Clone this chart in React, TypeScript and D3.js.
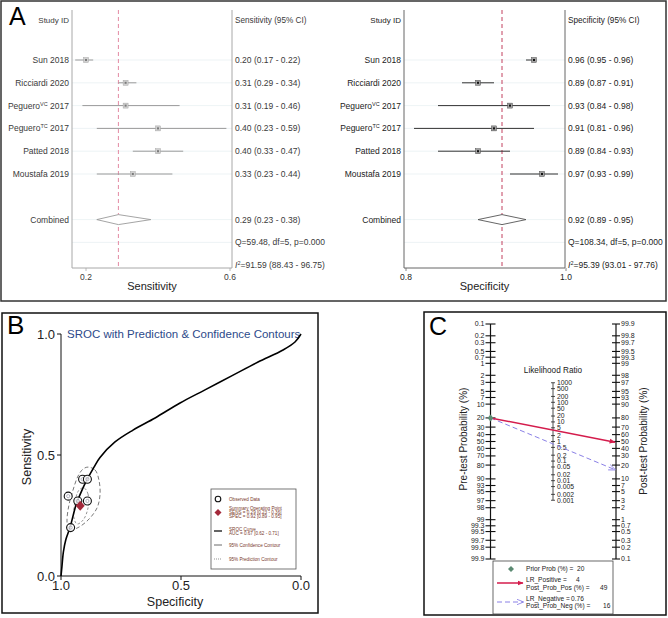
import React from "react";
import * as d3 from "d3";

const FONT = "'Liberation Sans', Arial, Helvetica, sans-serif";

// ---------- Panel A data ----------
const studyBase = ["Sun", "Ricciardi", "Peguero", "Peguero", "Patted", "Moustafa"];
const studySup = ["", "", "VC", "TC", "", ""];
const studyYear = ["2018", "2020", "2017", "2017", "2018", "2019"];
const sensEst = [0.2, 0.31, 0.31, 0.4, 0.4, 0.33];
const sensLo = [0.17, 0.29, 0.19, 0.23, 0.33, 0.23];
const sensHi = [0.22, 0.34, 0.46, 0.59, 0.47, 0.44];
const specEst = [0.96, 0.89, 0.93, 0.91, 0.89, 0.97];
const specLo = [0.95, 0.87, 0.84, 0.81, 0.84, 0.93];
const specHi = [0.96, 0.91, 0.98, 0.96, 0.93, 0.99];
const sensPooled = [0.29, 0.23, 0.38];
const specPooled = [0.92, 0.89, 0.95];
const sensTicks = [0.2, 0.6];
const specTicks = [0.8, 1.0];
const sensQ = "Q=59.48, df=5, p=0.000";
const sensI2 = "=91.59 (88.43 - 96.75)";
const specQ = "Q=108.34, df=5, p=0.000";
const specI2 = "=95.39 (93.01 - 97.76)";

// ---------- Panel B data ----------
const srocSpec = [1.0, 0.996, 0.99, 0.98, 0.9625, 0.9375, 0.9125, 0.892, 0.8625, 0.8375, 0.775, 0.7, 0.608, 0.504, 0.4, 0.283, 0.179, 0.075, 0.025, 0.0];
const srocSens = [0.0, 0.04, 0.1, 0.15, 0.2, 0.293, 0.355, 0.397, 0.45, 0.49, 0.554, 0.603, 0.653, 0.715, 0.769, 0.83, 0.884, 0.934, 0.967, 1.0];
const predSpec = [0.8875, 0.858, 0.842, 0.8375, 0.85, 0.8875, 0.933, 0.967, 0.975, 0.967, 0.95, 0.929, 0.908];
const predSens = [0.45, 0.438, 0.397, 0.335, 0.281, 0.231, 0.198, 0.19, 0.223, 0.293, 0.355, 0.413, 0.442];
const confSpec = [0.904, 0.8875, 0.8875, 0.908, 0.933, 0.946, 0.942, 0.925];
const confSens = [0.364, 0.339, 0.281, 0.231, 0.215, 0.24, 0.306, 0.355];
const rocTicks = [0, 0.5, 1];
const legendB = ["Observed Data", "Summary Operating Point", "SENS = 0.29 [0.23 - 0.36]", "SPEC = 0.92 [0.89 - 0.95]", "SROC Curve", "AUC = 0.67 [0.62 - 0.71]", "95% Confidence Contour", "95% Prediction Contour"];

// ---------- Panel C data ----------
const probTicks = [0.1, 0.2, 0.3, 0.5, 0.7, 1, 2, 3, 5, 7, 10, 20, 30, 40, 50, 60, 70, 80, 90, 93, 95, 97, 98, 99, 99.3, 99.5, 99.7, 99.8, 99.9];
const lrTicks = [1000, 500, 200, 100, 50, 20, 10, 5, 2, 1, 0.5, 0.2, 0.1, 0.05, 0.02, 0.01, 0.005, 0.002, 0.001];
const priorProb = 20;
const lrPos = 4;
const lrNeg = 0.76;
const postPos = 49;
const postNeg = 16;

const logit = (p: number) => Math.log(p / (1 - p));

type Theme = { line: string; fill: string; dot: string; text: string; ref: string; frame: string; diamond: string };

function Forest(props: any) {
  const { x, axL, axR, est, lo, hi, pooled, header, axisLabel, ticks, q, i2, labelX, ciX, th } = props;
  const t: Theme = th;
  const ry = d3.scaleLinear().domain([0, 5]).range([60, 174]);
  const fmt = d3.format(".2f");
  const tickFmt = d3.format(".1f");
  const yTop = 10;
  const yBot = 268;
  const gridRows = [0, 1, 2, 3, 4, 5, 7, 8];
  const ciText = (e: number, l: number, h: number) => `${fmt(e)} (${fmt(l)} - ${fmt(h)})`;
  const py = ry(7);
  const diamond = [
    [x(pooled[1]), py],
    [x(pooled[0]), py - 5],
    [x(pooled[2]), py],
    [x(pooled[0]), py + 5],
  ];
  return (
    <g fontFamily={FONT}>
      {gridRows.map((r) => (
        <line key={r} x1={axL} x2={axR} y1={ry(r)} y2={ry(r)} stroke="#e9f0f2" strokeWidth={0.8} />
      ))}
      <line x1={x(pooled[0])} x2={x(pooled[0])} y1={yTop} y2={yBot} stroke={t.ref} strokeWidth={1} strokeDasharray="4,3" />
      <line x1={axL} x2={axL} y1={yTop} y2={yBot} stroke={t.frame} strokeWidth={1} />
      <line x1={axR} x2={axR} y1={yTop} y2={yBot} stroke={t.frame} strokeWidth={1} />
      <line x1={axL} x2={axR} y1={yBot} y2={yBot} stroke={t.frame} strokeWidth={1} />
      {ticks.map((v: number) => (
        <g key={v}>
          <line x1={x(v)} x2={x(v)} y1={yBot} y2={yBot + 3} stroke={t.frame} strokeWidth={0.8} />
          <text x={x(v)} y={yBot + 12} textAnchor="middle" fontSize={8.5} fill={t.text}>{tickFmt(v)}</text>
        </g>
      ))}
      <text x={(axL + axR) / 2} y={yBot + 22} textAnchor="middle" fontSize={11} fill="#222">{axisLabel}</text>
      <text x={labelX} y={ry(-1.75)} dy="0.35em" textAnchor="end" fontSize={8} fill={t.text}>Study ID</text>
      <text x={ciX} y={ry(-1.75)} dy="0.35em" fontSize={8.2} fill={t.text}>{header}</text>
      {est.map((e: number, i: number) => {
        const y = ry(i);
        return (
          <g key={i}>
            <text x={labelX} y={y} dy="0.35em" textAnchor="end" fontSize={8.5} fill={t.text}>
              {studyBase[i]}
              {studySup[i] ? <tspan dy={-3} fontSize={5.5}>{studySup[i]}</tspan> : null}
              <tspan dy={studySup[i] ? 3 : 0}>{" " + studyYear[i]}</tspan>
            </text>
            <line x1={x(lo[i])} x2={x(hi[i])} y1={y} y2={y} stroke={t.line} strokeWidth={1} />
            <rect x={x(e) - 2.5} y={y - 2.5} width={5} height={5} fill={t.fill} stroke={t.line} strokeWidth={0.4} />
            <rect x={x(e) - 1} y={y - 1} width={2} height={2} fill={t.dot} />
            <text x={ciX} y={y} dy="0.35em" fontSize={8.5} fill={t.text}>{ciText(e, lo[i], hi[i])}</text>
          </g>
        );
      })}
      <text x={labelX} y={py} dy="0.35em" textAnchor="end" fontSize={8.5} fill={t.text}>Combined</text>
      <polygon points={diamond.map((d) => d.join(",")).join(" ")} fill="white" stroke={t.diamond} strokeWidth={0.9} />
      <text x={ciX} y={py} dy="0.35em" fontSize={8.5} fill={t.text}>{ciText(pooled[0], pooled[1], pooled[2])}</text>
      <text x={ciX} y={ry(8)} dy="0.35em" fontSize={8.5} fill={t.text}>{q}</text>
      <text x={ciX} y={ry(9)} dy="0.35em" fontSize={8.5} fill={t.text}>
        <tspan fontStyle="italic">I</tspan>
        <tspan dy={-3} fontSize={5.5}>2</tspan>
        <tspan dy={3}>{i2}</tspan>
      </text>
    </g>
  );
}

function PanelA() {
  const xSens = d3.scaleLinear().domain([0.2, 0.6]).range([86, 230]);
  const xSpec = d3.scaleLinear().domain([0.8, 1.0]).range([406, 566]);
  const left: Theme = { line: "#9a9a9a", fill: "#d0d0d0", dot: "#7a7a7a", text: "#3a3a3a", ref: "#e48aa4", frame: "#a8a8a8", diamond: "#9a9a9a" };
  const right: Theme = { line: "#333", fill: "#a0a0a0", dot: "#111", text: "#222", ref: "#c2405f", frame: "#666", diamond: "#555" };
  return (
    <g>
      <rect x={1} y={1} width={665} height={300} fill="white" stroke="#333" strokeWidth={1.5} />
      <text x={9} y={25} fontFamily={FONT} fontSize={25} fill="#000">A</text>
      <Forest x={xSens} axL={72} axR={232} est={sensEst} lo={sensLo} hi={sensHi} pooled={sensPooled}
        header="Sensitivity (95% CI)" axisLabel="Sensitivity" ticks={sensTicks} q={sensQ} i2={sensI2}
        labelX={69} ciX={235} th={left} />
      <Forest x={xSpec} axL={404} axR={565} est={specEst} lo={specLo} hi={specHi} pooled={specPooled}
        header="Specificity (95% CI)" axisLabel="Specificity" ticks={specTicks} q={specQ} i2={specI2}
        labelX={401} ciX={568} th={right} />
    </g>
  );
}

function PanelB() {
  const bx = d3.scaleLinear().domain([1, 0]).range([61, 301]);
  const by = d3.scaleLinear().domain([0, 1]).range([576, 334]);
  const fmt = d3.format(".1f");
  const lineGen = d3.line<[number, number]>().x((d) => bx(d[0])).y((d) => by(d[1]));
  const sroc = lineGen.curve(d3.curveCatmullRom)(srocSpec.map((s, i) => [s, srocSens[i]] as [number, number]));
  const closed = d3.line<[number, number]>().x((d) => bx(d[0])).y((d) => by(d[1])).curve(d3.curveCatmullRomClosed);
  const pred = closed(predSpec.map((s, i) => [s, predSens[i]] as [number, number]));
  const conf = closed(confSpec.map((s, i) => [s, confSens[i]] as [number, number]));
  const sx = bx(specPooled[0]);
  const sy = by(sensPooled[0]);
  const legX = 211, legY = 489;
  const txtX = 229;
  const symX = 218;
  const lc = "#7a3a2c";
  return (
    <g fontFamily={FONT}>
      <rect x={2} y={313} width={316} height={300} fill="white" stroke="#111" strokeWidth={1.5} />
      <text x={7} y={334} fontSize={26} fill="#000">B</text>
      <text x={67} y={338} fontSize={11.5} fill="#2d4a8a">SROC with Prediction &amp; Confidence Contours</text>
      <line x1={bx(1)} x2={bx(1)} y1={by(0)} y2={by(1)} stroke="#111" strokeWidth={1} />
      <line x1={bx(1)} x2={bx(0)} y1={by(0)} y2={by(0)} stroke="#111" strokeWidth={1} />
      {rocTicks.map((v) => (
        <g key={"y" + v}>
          <line x1={bx(1) - 4} x2={bx(1)} y1={by(v)} y2={by(v)} stroke="#111" />
          <text x={bx(1) - 6} y={by(v)} dy="0.35em" textAnchor="end" fontSize={13} fill="#222">{fmt(v)}</text>
        </g>
      ))}
      {rocTicks.map((v) => (
        <g key={"x" + v}>
          <line x1={bx(v)} x2={bx(v)} y1={by(0)} y2={by(0) + 4} stroke="#111" />
          <text x={bx(v)} y={by(0) + 14} textAnchor="middle" fontSize={13} fill="#222">{fmt(v)}</text>
        </g>
      ))}
      <text x={175} y={606} textAnchor="middle" fontSize={12.5} fill="#222">Specificity</text>
      <text transform={`translate(31,457) rotate(-90)`} textAnchor="middle" fontSize={12.5} fill="#222">Sensitivity</text>
      <path d={pred || ""} fill="none" stroke="#555" strokeWidth={0.8} strokeDasharray="4,2.5" />
      <path d={conf || ""} fill="none" stroke="#666" strokeWidth={0.7} strokeDasharray="2.5,2" />
      <path d={sroc || ""} fill="none" stroke="#000" strokeWidth={1.6} />
      {specEst.map((s, i) => (
        <g key={i}>
          <circle cx={bx(s)} cy={by(sensEst[i])} r={4} fill="white" fillOpacity={0.85} stroke="#111" strokeWidth={1.1} />
          <circle cx={bx(s)} cy={by(sensEst[i])} r={1.6} fill="none" stroke="#8a8a9a" strokeWidth={0.6} />
        </g>
      ))}
      <path d={`M${sx},${sy - 5} L${sx + 4.5},${sy} L${sx},${sy + 5} L${sx - 4.5},${sy} Z`} fill="#a3283a" />
      <rect x={legX} y={legY} width={85} height={80} fill="white" stroke="#555" strokeWidth={0.8} />
      <circle cx={symX} cy={499} r={2.8} fill="none" stroke="#111" strokeWidth={1.1} />
      <text x={txtX} y={499} dy="0.35em" fontSize={4.6} fill={lc}>{legendB[0]}</text>
      <path d={`M${symX},509 L${symX + 3.5},512.5 L${symX},516 L${symX - 3.5},512.5 Z`} fill="#a3283a" />
      <text x={txtX} y={508.5} dy="0.35em" fontSize={4.6} fill={lc}>{legendB[1]}</text>
      <text x={txtX} y={512.3} dy="0.35em" fontSize={4.6} fill={lc}>{legendB[2]}</text>
      <text x={txtX} y={516.3} dy="0.35em" fontSize={4.6} fill={lc}>{legendB[3]}</text>
      <line x1={symX - 4} x2={symX + 4} y1={531} y2={531} stroke="#222" strokeWidth={1.4} />
      <text x={txtX} y={529.3} dy="0.35em" fontSize={4.6} fill={lc}>{legendB[4]}</text>
      <text x={txtX} y={533.5} dy="0.35em" fontSize={4.6} fill={lc}>{legendB[5]}</text>
      <line x1={symX - 4} x2={symX + 4} y1={545} y2={545} stroke="#444" strokeWidth={0.8} />
      <text x={txtX} y={545} dy="0.35em" fontSize={4.6} fill={lc}>{legendB[6]}</text>
      <line x1={symX - 4} x2={symX + 4} y1={559} y2={559} stroke="#666" strokeWidth={0.7} strokeDasharray="1,1" />
      <text x={txtX} y={559} dy="0.35em" fontSize={4.6} fill={lc}>{legendB[7]}</text>
    </g>
  );
}

function PanelC() {
  const lc = d3.scaleLinear().domain([logit(0.001), logit(0.999)]).range([324, 559]);
  const yPre = (p: number) => lc(logit(p / 100));
  const yPost = (p: number) => lc(-logit(p / 100));
  const yLR = (lr: number) => lc(-Math.log(lr) / 2);
  const xL = 490.5, xM = 553, xR = 616;
  const fmtP = (v: number) => String(v);
  const red = "#d41c4c";
  const blue = "#8a80e6";
  const y0 = yPre(priorProb);
  const tf = 7;
  const lf = 6.6;
  return (
    <g fontFamily={FONT}>
      <defs>
        <marker id="arrRed" viewBox="0 0 10 10" refX="9" refY="5" markerWidth="6" markerHeight="6" orient="auto" markerUnits="userSpaceOnUse">
          <path d="M0,1 L10,5 L0,9 Z" fill={red} />
        </marker>
        <marker id="arrBlue" viewBox="0 0 10 10" refX="9" refY="5" markerWidth="7" markerHeight="7" orient="auto" markerUnits="userSpaceOnUse">
          <path d="M0,1 L10,5 L0,9" fill="none" stroke={blue} strokeWidth={1.2} />
        </marker>
      </defs>
      <rect x={424} y={312} width={242} height={303} fill="white" stroke="#111" strokeWidth={1.5} />
      <text x={429} y={335} fontSize={25} fill="#000">C</text>
      {/* left axis */}
      <line x1={xL} x2={xL} y1={yPre(0.1)} y2={yPre(99.9)} stroke="#111" strokeWidth={1.2} />
      {probTicks.map((v) => (
        <g key={"l" + v}>
          <line x1={xL - 5} x2={xL + 5} y1={yPre(v)} y2={yPre(v)} stroke="#111" strokeWidth={1.1} />
          <text x={xL - 6} y={yPre(v)} dy="0.35em" textAnchor="end" fontSize={tf} fill="#222">{fmtP(v)}</text>
        </g>
      ))}
      {/* right axis */}
      <line x1={xR} x2={xR} y1={yPost(99.9)} y2={yPost(0.1)} stroke="#111" strokeWidth={1.2} />
      {probTicks.map((v) => (
        <g key={"r" + v}>
          <line x1={xR - 4} x2={xR + 4} y1={yPost(v)} y2={yPost(v)} stroke="#111" strokeWidth={1.1} />
          <text x={xR + 5} y={yPost(v)} dy="0.35em" fontSize={tf} fill="#222">{fmtP(v)}</text>
        </g>
      ))}
      {/* middle axis */}
      <line x1={xM} x2={xM} y1={yLR(1000)} y2={yLR(0.001)} stroke="#222" strokeWidth={0.8} />
      {lrTicks.map((v) => (
        <g key={"m" + v}>
          <line x1={xM - 2} x2={xM + 2} y1={yLR(v)} y2={yLR(v)} stroke="#222" strokeWidth={0.8} />
          <text x={xM + 4} y={yLR(v)} dy="0.35em" fontSize={6.8} fill="#222">{fmtP(v)}</text>
        </g>
      ))}
      <text x={xM} y={370} dy="0.35em" textAnchor="middle" fontSize={8.2} fill="#222">Likelihood Ratio</text>
      <text transform={`translate(467,439) rotate(-90)`} textAnchor="middle" fontSize={10} fill="#222">Pre-test Probability (%)</text>
      <text transform={`translate(647,441) rotate(-90)`} textAnchor="middle" fontSize={10} fill="#222">Post-test Probability (%)</text>
      {/* lines */}
      <line x1={xL} y1={y0} x2={xR - 1} y2={yPost(postNeg)} stroke={blue} strokeWidth={1} strokeDasharray="5,3" markerEnd="url(#arrBlue)" />
      <line x1={xL} y1={y0} x2={xR - 1} y2={yPost(postPos)} stroke={red} strokeWidth={1.5} markerEnd="url(#arrRed)" />
      <path d={`M${xL},${y0 - 3.5} L${xL + 3},${y0} L${xL},${y0 + 3.5} L${xL - 3},${y0} Z`} fill="#5b8a72" />
      {/* legend */}
      <rect x={493} y={561} width={120} height={53} fill="white" stroke="#444" strokeWidth={0.8} />
      <path d="M511,566 L514,569 L511,572 L508,569 Z" fill="#5b8a72" />
      <text x={526} y={569} dy="0.35em" fontSize={lf} fill="#222">Prior Prob (%) =</text>
      <text x={577} y={569} dy="0.35em" fontSize={lf} fill="#222">{priorProb}</text>
      <line x1={497} x2={523} y1={583} y2={583} stroke={red} strokeWidth={1.5} markerEnd="url(#arrRed)" />
      <text x={526} y={580} dy="0.35em" fontSize={lf} fill="#222">LR_Positive =</text>
      <text x={576} y={580} dy="0.35em" fontSize={lf} fill="#222">{lrPos}</text>
      <text x={526} y={587.5} dy="0.35em" fontSize={lf} fill="#222">Post_Prob_Pos (%) =</text>
      <text x={600} y={587.5} dy="0.35em" fontSize={lf} fill="#222">{postPos}</text>
      <line x1={497} x2={523} y1={602} y2={602} stroke={blue} strokeWidth={1} strokeDasharray="5,3" markerEnd="url(#arrBlue)" />
      <text x={526} y={598.5} dy="0.35em" fontSize={lf} fill="#222">LR_Negative =</text>
      <text x={571} y={598.5} dy="0.35em" fontSize={lf} fill="#222">{lrNeg}</text>
      <text x={526} y={606} dy="0.35em" fontSize={lf} fill="#222">Post_Prob_Neg (%) =</text>
      <text x={603} y={606} dy="0.35em" fontSize={lf} fill="#222">{postNeg}</text>
    </g>
  );
}

export default function App() {
  return (
    <svg width={668} height={618} viewBox="0 0 668 618" style={{ position: "absolute", left: 0, top: 0, background: "white" }}>
      <rect x={0} y={0} width={668} height={618} fill="white" />
      <PanelA />
      <PanelB />
      <PanelC />
    </svg>
  );
}
